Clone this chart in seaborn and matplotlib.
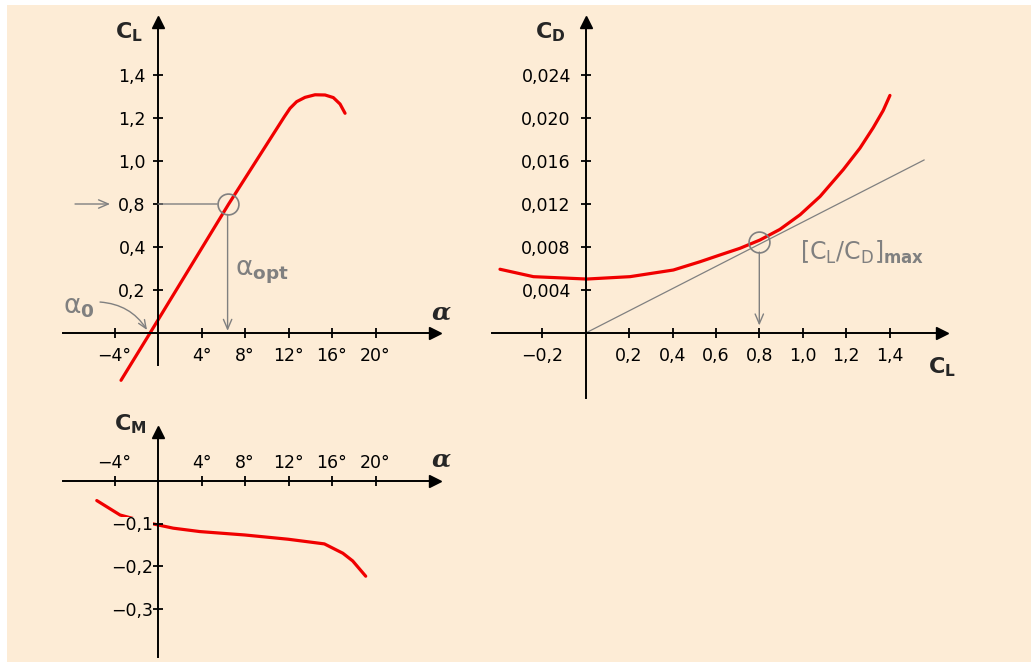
import matplotlib
matplotlib.use('Agg')
import matplotlib.pyplot as plt
from matplotlib.patches import Rectangle
import seaborn as sns

# --- data ---
# lift curve C_L(alpha); y in axis units (ticks are 0.2 apart)
alpha_cl = [-3.4, -0.73, 6.5, 11.62, 12.14, 12.75, 13.52, 14.44, 15.36,
            16.12, 16.74, 17.2]
cl_vals = [-0.22, 0.0, 0.6, 1.006, 1.045, 1.076, 1.096, 1.108, 1.107,
           1.095, 1.065, 1.022]

# drag polar C_D(C_L)
cl_polar = [-0.395, -0.241, 0.005, 0.204, 0.404, 0.527, 0.619, 0.711, 0.803,
            0.895, 0.988, 1.080, 1.187, 1.264, 1.325, 1.371, 1.402]
cd_polar = [0.00593, 0.00524, 0.00502, 0.00524, 0.00586, 0.00663, 0.00726,
            0.00788, 0.00865, 0.00964, 0.0110, 0.0127, 0.0152, 0.0172, 0.0191,
            0.0207, 0.0221]

# tangent from origin
tangent_cl = [0.0, 1.56]
tangent_cd = [0.0, 0.0161]

# moment curve C_M(alpha)
alpha_cm = [-5.63, -3.49, -0.43, 1.4, 3.85, 7.98, 11.96, 15.3, 17.0, 17.9, 19.1]
cm_vals = [-0.046, -0.080, -0.101, -0.111, -0.119, -0.127, -0.137, -0.148,
           -0.170, -0.188, -0.224]

# operating points
opt_alpha, opt_cl = 6.4, 0.6
best_cl, best_cd = 0.8, 0.0085

# ticks
alpha_ticks = [-4, 4, 8, 12, 16, 20]
alpha_ticklabels = ['−4°', '4°', '8°', '12°', '16°', '20°']
cl_ticks = [0.2, 0.4, 0.6, 0.8, 1.0, 1.2]
cl_ticklabels = ['0,2', '0,4', '0,8', '1,0', '1,2', '1,4']
cdx_ticks = [-0.2, 0.2, 0.4, 0.6, 0.8, 1.0, 1.2, 1.4]
cdx_ticklabels = ['−0,2', '0,2', '0,4', '0,6', '0,8', '1,0', '1,2', '1,4']
cdy_ticks = [0.004, 0.008, 0.012, 0.016, 0.020, 0.024]
cdy_ticklabels = ['0,004', '0,008', '0,012', '0,016', '0,020', '0,024']
cm_ticks = [-0.1, -0.2, -0.3]
cm_ticklabels = ['−0,1', '−0,2', '−0,3']

sns.set_style('white')
plt.rcParams['font.family'] = ['DejaVu Sans']
plt.rcParams['mathtext.fontset'] = 'dejavusans'
plt.rcParams['mathtext.default'] = 'regular'

BG = '#fdecd6'
GRAY = '#808080'
RED = '#f00000'
W, H = 1031, 665

fig = plt.figure(figsize=(W / 100, H / 100), dpi=100)
fig.patch.set_facecolor('white')
fig.patches.append(Rectangle((7 / W, 3 / H), 1 - 7 / W, 1 - 8 / H,
                             transform=fig.transFigure, facecolor=BG,
                             edgecolor='none', zorder=-10))


def place(box, origin, sx, sy):
    # box in pixels from the top-left corner, origin = pixel of (0, 0)
    l, t, r, b = box
    ax = fig.add_axes([l / W, 1 - b / H, (r - l) / W, (b - t) / H])
    ax.set_xlim((l - origin[0]) / sx, (r - origin[0]) / sx)
    ax.set_ylim((origin[1] - b) / sy, (origin[1] - t) / sy)
    ax.patch.set_alpha(0)
    ax.set_axisbelow(False)
    return ax


def cross_axes(ax, xb, yb, top_labels=False, xpad=6, ypad=5):
    xs = 'top' if top_labels else 'bottom'
    for s in ['left', 'right', 'top', 'bottom']:
        ax.spines[s].set_visible(False)
    for s in ['left', xs]:
        ax.spines[s].set_visible(True)
        ax.spines[s].set_position(('data', 0))
        ax.spines[s].set_linewidth(1.4)
        ax.spines[s].set_color('black')
    ax.spines[xs].set_bounds(*xb)
    ax.spines['left'].set_bounds(*yb)
    ax.xaxis.set_ticks_position(xs)
    ax.yaxis.set_ticks_position('left')
    ax.tick_params(axis='both', direction='inout', length=7.5, width=1.3,
                   labelsize=12.5, colors='black')
    ax.tick_params(axis='x', pad=xpad)
    ax.tick_params(axis='y', pad=ypad)
    ax.plot(xb[1], 0, marker='>', color='black', ms=8, clip_on=False)
    ax.plot(0, yb[1], marker='^', color='black', ms=8, clip_on=False)
    ax.set_xlabel('')
    ax.set_ylabel('')


# --- lift curve ---
ax1 = place((40, 10, 460, 395), (158, 333), 10.875, 215)
sns.lineplot(x=alpha_cl, y=cl_vals, ax=ax1, color=RED, lw=2.3,
             sort=False, estimator=None)
cross_axes(ax1, (-8.74, 25.47), (-0.149, 1.447))
ax1.set_xticks(alpha_ticks, alpha_ticklabels)
ax1.set_yticks(cl_ticks, cl_ticklabels)
ax1.plot(opt_alpha, opt_cl, 'o', mfc='none', mec=GRAY, ms=15, mew=1.2)
ax1.annotate('', xy=(0, opt_cl), xytext=(opt_alpha, opt_cl),
             arrowprops=dict(arrowstyle='-', color=GRAY, lw=1, shrinkA=7.5, shrinkB=0))
ax1.annotate('', xy=(opt_alpha, 0.01), xytext=(opt_alpha, opt_cl),
             arrowprops=dict(arrowstyle='->,head_length=0.7,head_width=0.3',
                             color=GRAY, lw=1, shrinkA=7.5, shrinkB=0))
ax1.annotate('', xy=(-4.41, opt_cl), xytext=(-7.63, opt_cl), annotation_clip=False,
             arrowprops=dict(arrowstyle='->,head_length=0.7,head_width=0.3',
                             color=GRAY, lw=1, shrinkA=0, shrinkB=0))
ax1.annotate('', xy=(-1.01, 0.014), xytext=(-5.33, 0.144),
             arrowprops=dict(arrowstyle='->,head_length=0.6,head_width=0.25',
                             color=GRAY, lw=1, shrinkA=0, shrinkB=0,
                             connectionstyle='arc3,rad=-0.25'))
ax1.text(7.08, 0.284, r'$\alpha_{\mathbf{opt}}$', color=GRAY, fontsize=19,
         va='center', ha='left')
ax1.text(-8.74, 0.121, r'$\alpha_{\mathbf{0}}$', color=GRAY, fontsize=19,
         va='center', ha='left', clip_on=False)
ax1.text(-1.38, 1.40, r'$\mathbf{C_L}$', fontsize=16, va='center', ha='right')
ax1.text(26.0, 0.0977, 'α', fontsize=18, fontweight='bold', style='italic',
         family='DejaVu Serif', va='center', ha='center', clip_on=False)

# --- drag polar ---
ax2 = place((480, 10, 1020, 405), (585.7, 333), 217, 10750)
ax2.plot(tangent_cl, tangent_cd, color=GRAY, lw=0.9)
sns.lineplot(x=cl_polar, y=cd_polar, ax=ax2, color=RED, lw=2.3,
             sort=False, estimator=None)
cross_axes(ax2, (-0.432, 1.64), (-0.00605, 0.0289), ypad=7)
ax2.set_xticks(cdx_ticks, cdx_ticklabels)
ax2.set_yticks(cdy_ticks, cdy_ticklabels)
ax2.plot(best_cl, best_cd, 'o', mfc='none', mec=GRAY, ms=15, mew=1.2)
ax2.annotate('', xy=(best_cl, 0.0007), xytext=(best_cl, best_cd),
             arrowprops=dict(arrowstyle='->,head_length=0.7,head_width=0.3',
                             color=GRAY, lw=1, shrinkA=7.5, shrinkB=0))
ax2.text(0.988, 0.00753, r'$[C_L/C_D]_{\mathbf{max}}$', color=GRAY, fontsize=17,
         va='center', ha='left')
ax2.text(-0.095, 0.0280, r'$\mathbf{C_D}$', fontsize=16, va='center', ha='right')
ax2.text(1.642, -0.00316, r'$\mathbf{C_L}$', fontsize=16, va='center', ha='center',
         clip_on=False)

# --- moment curve ---
ax3 = place((40, 400, 460, 662), (158, 481), 10.875, 425)
sns.lineplot(x=alpha_cm, y=cm_vals, ax=ax3, color=RED, lw=2.3,
             sort=False, estimator=None)
cross_axes(ax3, (-8.74, 25.47), (-0.413, 0.116), top_labels=True, xpad=3, ypad=0)
ax3.set_xticks(alpha_ticks, alpha_ticklabels)
ax3.set_yticks(cm_ticks, cm_ticklabels)
for lbl in ax3.get_yticklabels():
    lbl.set_bbox(dict(facecolor=BG, edgecolor='none', pad=0))
ax3.text(-1.01, 0.134, r'$\mathbf{C_M}$', fontsize=16, va='center', ha='right',
         clip_on=False)
ax3.text(26.0, 0.0518, 'α', fontsize=18, fontweight='bold', style='italic',
         family='DejaVu Serif', va='center', ha='center', clip_on=False)

fig.savefig('out.png', dpi=100)
